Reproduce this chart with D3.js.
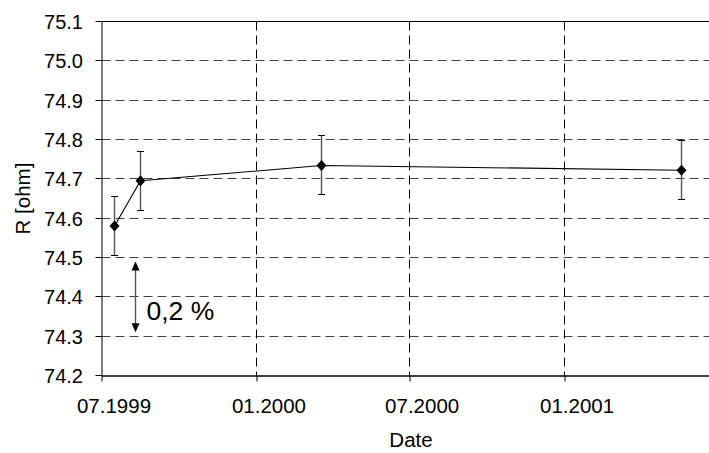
<!DOCTYPE html>
<html>
<head>
<meta charset="utf-8">
<script src="https://cdn.jsdelivr.net/npm/d3@7"></script>
<style>
  body { margin: 0; background: #fff; }
  svg { display: block; font-family: Arial, 'Liberation Sans', sans-serif; }
</style>
</head>
<body>
<svg width="709" height="453"></svg>
<script>
// measurement dates, resistance and uncertainty
const dates = ['1999-07-16', '1999-08-16', '2000-03-18', '2001-05-20'];
const values = [74.580, 74.695, 74.734, 74.722];
const errors = [0.075, 0.075, 0.075, 0.075];

const xTicks = ['1999-07-01', '2000-01-01', '2000-07-01', '2001-01-01'];
const yTicks = [74.2, 74.3, 74.4, 74.5, 74.6, 74.7, 74.8, 74.9, 75.0, 75.1];

// 0,2 % span annotation
const spanDate = '1999-08-10';
const spanFrom = 74.49;
const spanTo = 74.31;

const parse = d3.timeParse('%Y-%m-%d');
const data = dates.map((d, i) => ({ date: parse(d), value: values[i], err: errors[i] }));

const svg = d3.select('svg');
const plotLeft = 101.5, plotTop = 21.5, plotBottom = 375.5, plotRight = 717;

const x = d3.scaleTime()
  .domain([parse('1999-07-01'), parse('2001-07-01')])
  .range([plotLeft, plotRight]);

const y = d3.scaleLinear()
  .domain([74.2, 75.1])
  .range([plotBottom, plotTop]);

const px = v => Math.round(v - 0.5) + 0.5;

// gridlines
const grid = svg.append('g').attr('class', 'grid')
  .attr('stroke', '#000').attr('stroke-width', 1).attr('stroke-dasharray', '9,5');

grid.selectAll('line.h')
  .data(yTicks.slice(1, -1))
  .enter()
  .append('line')
  .attr('class', 'h')
  .attr('x1', plotLeft).attr('x2', 709)
  .attr('y1', d => px(y(d))).attr('y2', d => px(y(d)))
  .attr('stroke', '#444');

grid.selectAll('line.v')
  .data(xTicks.slice(1).map(parse))
  .enter()
  .append('line')
  .attr('class', 'v')
  .attr('x1', d => px(x(d))).attr('x2', d => px(x(d)))
  .attr('y1', plotTop).attr('y2', plotBottom);

// top border
svg.append('line')
  .attr('x1', plotLeft).attr('x2', 709)
  .attr('y1', plotTop).attr('y2', plotTop)
  .attr('stroke', '#000');

// axes
const xAxis = svg.append('g')
  .attr('transform', `translate(0,${plotBottom})`)
  .call(d3.axisBottom(x)
    .tickValues(xTicks.map(parse))
    .tickFormat(d3.timeFormat('%m.%Y'))
    .tickSize(6)
    .tickSizeOuter(0)
  );
xAxis.select('.domain').attr('stroke-width', 1.6);
xAxis.selectAll('.tick line').attr('transform', d => `translate(${px(x(d)) - x(d)},0)`);
xAxis.selectAll('text')
  .attr('y', 37.5).attr('dy', 0).attr('dx', 12)
  .attr('font-size', 20.5).attr('font-family', null).attr('fill', '#000');

const yAxis = svg.append('g')
  .attr('transform', `translate(${plotLeft},0)`)
  .call(d3.axisLeft(y)
    .tickValues(yTicks)
    .tickFormat(d3.format('.1f'))
    .tickSize(6)
    .tickSizeOuter(0)
  );
yAxis.selectAll('.tick').attr('transform', d => `translate(0,${px(y(d))})`);
yAxis.selectAll('text')
  .attr('x', -18.5).attr('dy', '0.36em')
  .attr('font-size', 20).attr('font-family', null).attr('fill', '#000');

// axis titles
svg.append('text')
  .attr('x', 411).attr('y', 447)
  .attr('text-anchor', 'middle')
  .attr('font-size', 20.5)
  .text('Date');

svg.append('text')
  .attr('transform', `translate(30,${(plotTop + plotBottom) / 2}) rotate(-90)`)
  .attr('text-anchor', 'middle')
  .attr('font-size', 20.5)
  .text('R [ohm]');

// error bars
const bars = svg.append('g').attr('class', 'errors');
bars.selectAll('line.bar')
  .data(data)
  .enter()
  .append('line')
  .attr('class', 'bar')
  .attr('x1', d => px(x(d.date))).attr('x2', d => px(x(d.date)))
  .attr('y1', d => y(d.value + d.err)).attr('y2', d => y(d.value - d.err))
  .attr('stroke', '#555').attr('stroke-width', 1.4);

['top', 'bot'].forEach(k => {
  bars.selectAll('line.' + k)
    .data(data)
    .enter()
    .append('line')
    .attr('class', k)
    .attr('x1', d => px(x(d.date)) - 3.5).attr('x2', d => px(x(d.date)) + 3.5)
    .attr('y1', d => px(y(k === 'top' ? d.value + d.err : d.value - d.err)))
    .attr('y2', d => px(y(k === 'top' ? d.value + d.err : d.value - d.err)))
    .attr('stroke', '#000');
});

// connecting line
svg.append('path')
  .datum(data)
  .attr('fill', 'none')
  .attr('stroke', '#000')
  .attr('stroke-width', 1.1)
  .attr('d', d3.line().x(d => px(x(d.date))).y(d => y(d.value)));

// diamond markers
svg.append('g')
  .selectAll('path')
  .data(data)
  .enter()
  .append('path')
  .attr('transform', d => `translate(${px(x(d.date))},${y(d.value)})`)
  .attr('d', 'M0,-5.5L5,0L0,5.5L-5,0Z')
  .attr('fill', '#000');

// 0,2 % annotation
const ax = px(x(parse(spanDate)));
const ay1 = y(spanFrom), ay2 = y(spanTo);
svg.append('line')
  .attr('x1', ax).attr('x2', ax)
  .attr('y1', ay1 + 6).attr('y2', ay2 - 6)
  .attr('stroke', '#555').attr('stroke-width', 1.4);
svg.append('path')
  .attr('d', `M${ax},${ay1}L${ax + 4},${ay1 + 9}L${ax - 4},${ay1 + 9}Z` +
             `M${ax},${ay2}L${ax + 4},${ay2 - 9}L${ax - 4},${ay2 - 9}Z`)
  .attr('fill', '#000');

svg.append('text')
  .attr('x', 146.5).attr('y', 320)
  .attr('font-size', 26.5)
  .text('0,2 %');
</script>
</body>
</html>
